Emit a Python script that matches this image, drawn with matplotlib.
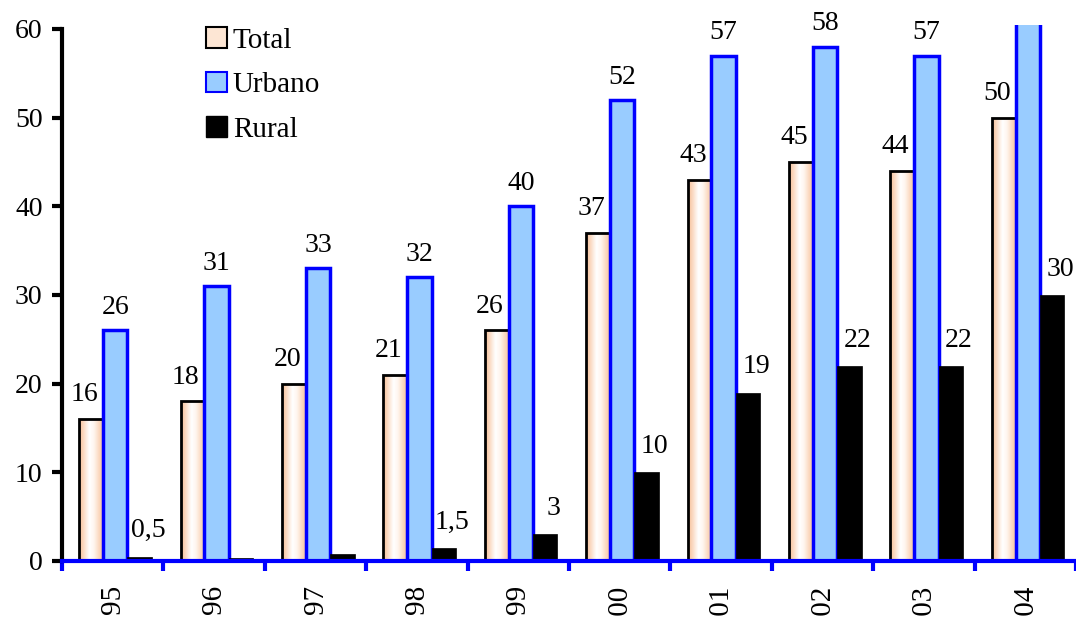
import numpy as np
import matplotlib
matplotlib.use("Agg")
import matplotlib.pyplot as plt
from matplotlib.colors import LinearSegmentedColormap
from matplotlib.patches import Patch

plt.rcParams['font.family'] = ['Liberation Serif', 'DejaVu Serif']

years = ["95", "96", "97", "98", "99", "'00", "'01", "'02", "'03", "'04"]
total = [16, 18, 20, 21, 26, 37, 43, 45, 44, 50]
urbano = [26, 31, 33, 32, 40, 52, 57, 58, 57, 62]
rural = [0.5, 0.3, 0.8, 1.5, 3, 10, 19, 22, 22, 30]
rural_shown = [True, False, False, True, True, True, True, True, True, True]

ymax = 60.45
fig = plt.figure(figsize=(10.76, 6.17), dpi=100)
ax = fig.add_axes([62/1076, 1 - 561/617, 1014/1076, 536/617])

x = np.arange(len(years))
w = 0.24

# Total bars: outline only, the peach/white gradient is painted underneath
bars_t = ax.bar(x - 0.21, total, width=w, facecolor='none', edgecolor='black',
                linewidth=2, zorder=3)
peach = LinearSegmentedColormap.from_list(
    "peach", [(0, "#F7BE95"), (0.42, "#FFFFFF"), (0.6, "#FFF6EF"), (1, "#F7BE95")])
grad = np.linspace(0, 1, 64).reshape(1, -1)
for b in bars_t:
    im = ax.imshow(grad, cmap=peach, aspect='auto', zorder=2.5,
                   extent=[b.get_x(), b.get_x() + b.get_width(), 0, b.get_height()])
    im.set_clip_path(b)

bars_u = ax.bar(x + 0.025, urbano, width=w, facecolor='#99CCFF', edgecolor='#0000FF',
                linewidth=2.5, zorder=3)
bars_r = ax.bar(x + 0.265, rural, width=w, facecolor='black', edgecolor='black',
                linewidth=0.5, zorder=3)

# value labels
for xi, v in zip(x, total):
    ax.annotate(f"{v:g}", (xi - 0.21, v), xytext=(-5, 8.5), textcoords='offset points',
                ha='center', va='bottom', fontsize=20)
for xi, v in zip(x, urbano):
    if v <= ymax:
        ax.annotate(f"{v:g}", (xi + 0.025, v), xytext=(0, 7.5), textcoords='offset points',
                    ha='center', va='bottom', fontsize=20)
for xi, v, s in zip(x, rural, rural_shown):
    if s:
        ax.annotate(f"{v:g}".replace('.', ','), (xi + 0.265, v), xytext=(6, 9.5),
                    textcoords='offset points', ha='center', va='bottom', fontsize=20)

ax.set_xlim(-0.5, -0.5 + 1014/101.5)
ax.set_ylim(0, ymax)

ax.spines['top'].set_visible(False)
ax.spines['right'].set_visible(False)
ax.spines['left'].set_linewidth(3)
ax.spines['left'].set_bounds(0, 60)
ax.spines['bottom'].set_color('#0000FF')
ax.spines['bottom'].set_linewidth(3)
ax.spines['bottom'].set_zorder(4)

ax.set_yticks(np.arange(0, 61, 10))
ax.tick_params(axis='y', direction='out', length=7, width=3, pad=7, labelsize=20)

ax.set_xticks(np.arange(-0.5, 10, 1))
ax.set_xticklabels([])
ax.tick_params(axis='x', which='major', direction='out', length=7, width=3,
               color='#0000FF')
ax.set_xticks(x, years, minor=True)
ax.tick_params(axis='x', which='minor', length=0, pad=17, labelsize=21,
               labelrotation=90)
for lbl in ax.get_xticklabels(minor=True):
    lbl.set_va('top')

handles = [Patch(facecolor='#FDE6D4', edgecolor='black', linewidth=1.5),
           Patch(facecolor='#99CCFF', edgecolor='#0000FF', linewidth=1.5),
           Patch(facecolor='black', edgecolor='black')]
fig.legend(handles, ["Total", "Urbano", "Rural"], loc='upper left',
           bbox_to_anchor=(206/1076, 1 - 27/617), frameon=False, fontsize=21,
           handlelength=0.72, handleheight=0.72, handletextpad=0.2,
           labelspacing=0.62, borderpad=0, borderaxespad=0)

fig.savefig("out.png", dpi=100)
